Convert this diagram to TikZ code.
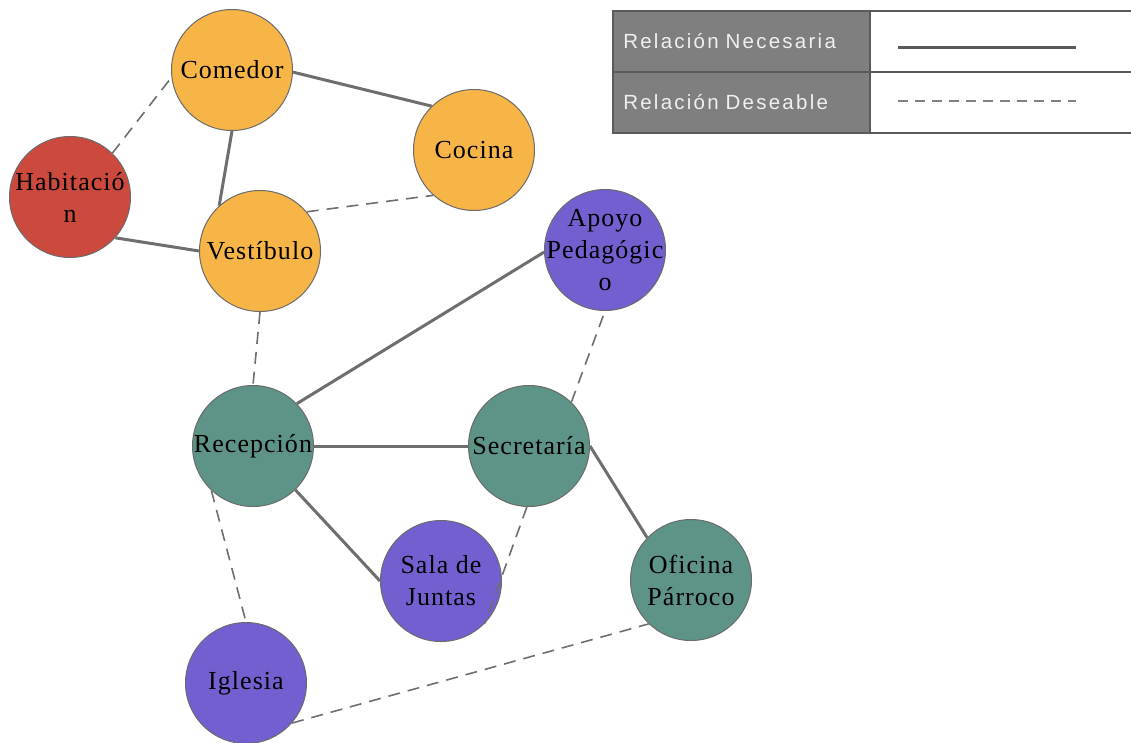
\documentclass[tikz,border=0pt]{standalone}
\usepackage{fontspec}
\setmainfont{Liberation Serif}[LetterSpace=4]
\newfontfamily\legendfont[LetterSpace=11]{Liberation Sans}
\usetikzlibrary{positioning}
\definecolor{orangeroom}{HTML}{F6B546}
\definecolor{redroom}{HTML}{CB4A3D}
\definecolor{tealroom}{HTML}{5E9388}
\definecolor{purpleroom}{HTML}{735FCF}
\definecolor{roomborder}{HTML}{6B6B6B}
\definecolor{edgegray}{HTML}{6E6E6E}
\definecolor{leggray}{HTML}{7F7F7F}
\definecolor{legborder}{HTML}{5A5A5A}
\tikzset{
	room/.style={circle, draw=roomborder, line width=1pt, minimum size=121pt, inner sep=0pt, align=center, font=\fontsize{26}{32}\selectfont},
	necesaria/.style={draw=edgegray, line width=3pt},
	deseable/.style={draw=edgegray, line width=1.6pt, dash pattern=on 12pt off 8pt},
	legcell/.style={draw=legborder, line width=1.5pt, minimum height=61pt, inner sep=0pt, anchor=north west},
	legtext/.style={legcell, fill=leggray, minimum width=257pt, text width=236pt, align=left, font=\legendfont\fontsize{20.5}{24}\selectfont, text=white!94!black}
}

\begin{document}
\begin{tikzpicture}[x=1pt, y=-1pt]
		\useasboundingbox (0,0) rectangle (1131,742);
		\node[room, fill=orangeroom] (com) at (232,70) {Comedor};
		\node[room, fill=orangeroom] (coc) at (474,150) {Cocina};
		\node[room, fill=redroom, inner sep=-10pt] (hab) at (70,197) {Habitació\\n};
		\node[room, fill=orangeroom] (ves) at (260,251) {Vestíbulo};
		\node[room, fill=purpleroom, inner sep=-30pt] (apo) at (605,250) {Apoyo\\Pedagógic\\o};
		\node[room, fill=tealroom] (rec) at (253,446) {Recepción};
		\node[room, fill=tealroom] (sec) at (529,446) {Secretaría};
		\node[room, fill=purpleroom] (sala) at (441,581) {Sala de\\Juntas};
		\node[room, fill=tealroom] (ofi) at (691,580) {Oficina\\Párroco};
		\node[room, fill=purpleroom] (igl) at (246,683) {Iglesia};

		\draw[necesaria] (com.-2) -- (coc.134);
		\draw[necesaria] (com.-90) -- (ves.132);
		\draw[necesaria] (hab.-42) -- (ves.180);
		\draw[necesaria] (rec.44) -- (apo.182);
		\draw[necesaria] (rec.0) -- (sec.180);
		\draw[necesaria] (rec.-46) -- (sala.180);
		\draw[necesaria] (sec.0) -- (ofi.136);
		\draw[deseable] (hab.46) -- (com.187);
		\draw[deseable] (ves.40) -- (coc.-132);
		\draw[deseable] (ves.-90) -- (rec.90);
		\draw[deseable] (sec.46) -- (apo.-90);
		\draw[deseable] (sec.-92) -- (sala.-44);
		\draw[deseable] (rec.-133) -- (igl.90);
		\draw[deseable] (igl.-41) -- (ofi.-134);

		\node[legtext] (necT) at (612,10) {Relación Necesaria};
		\node[legtext] (desT) at (612,71) {Relación Deseable};
		\node[legcell, fill=white, minimum width=270pt] (necL) at (869,10) {};
		\node[legcell, fill=white, minimum width=270pt] (desL) at (869,71) {};
		\coordinate (necA) at (898,47);
		\coordinate (necB) at (1076,47);
		\coordinate (desA) at (898,101);
		\coordinate (desB) at (1076,101);
		\draw[necesaria, draw=legborder] (necA) -- (necB);
		\draw[deseable, draw=gray, dash pattern=on 10pt off 7pt] (desA) -- (desB);
	\end{tikzpicture}
\end{document}
